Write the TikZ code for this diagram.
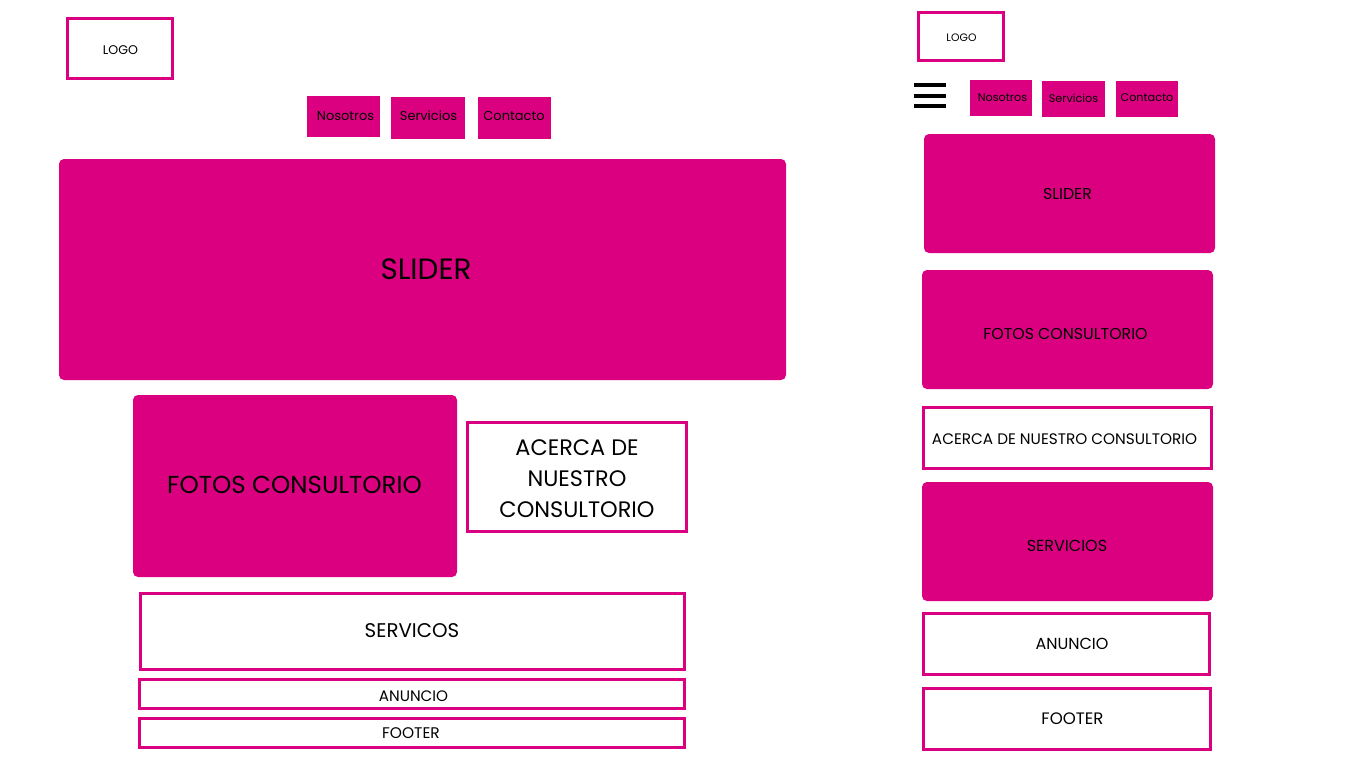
\documentclass[tikz,border=0pt]{standalone}
\usepackage{fontspec}
\setmainfont{Poppins}
\definecolor{brand}{RGB}{219,0,128}
% font size in pt (1 canvas px = 0.5pt)
\newcommand{\pxsize}[2]{\fontsize{#1}{#2}\selectfont}
\tikzset{
  solidbox/.style={fill=brand, draw=none, inner sep=0pt},
  roundbox/.style={solidbox, rounded corners=2.5pt},
  framebox/.style={draw=brand, line width=1.5pt, fill=white, inner sep=0pt},
  label text/.style={inner sep=0pt, align=center, text=black, yshift=-0.5pt},
  burger/.style={line width=2pt, black},
}
\begin{document}
\begin{tikzpicture}[x=0.5pt, y=-0.5pt]
\useasboundingbox[fill=white] (0,0) rectangle (1366,768);

% ---------- desktop layout: boxes ----------
\node[framebox, minimum width=52.5pt, minimum height=30pt] (dlogo) at (120,48.5) {};
\node[solidbox, minimum width=36.5pt, minimum height=20.5pt] (dnos) at (343.5,116.5) {};
\node[solidbox, minimum width=37pt, minimum height=21pt] (dser) at (428,118) {};
\node[solidbox, minimum width=36.5pt, minimum height=21pt] (dcon) at (514.5,118) {};
\node[roundbox, minimum width=363.5pt, minimum height=110.5pt] (dslider) at (422.5,269.5) {};
\node[roundbox, minimum width=162pt, minimum height=91pt] (dfotos) at (295,486) {};
\node[framebox, minimum width=109.5pt, minimum height=54.5pt] (dacerca) at (577,477) {};
\node[framebox, minimum width=272pt, minimum height=38pt] (dservicos) at (412.5,631.5) {};
\node[framebox, minimum width=272.5pt, minimum height=14.5pt] (danuncio) at (412,694) {};
\node[framebox, minimum width=272.5pt, minimum height=14.5pt] (dfooter) at (412,733) {};

% ---------- desktop layout: labels ----------
\node[label text, font=\pxsize{6.3}{7}] (dlogo-t) at (120.5,49) {LOGO};
\node[label text, font=\pxsize{6.5}{8}] (dnos-t) at (345.5,115) {Nosotros};
\node[label text, font=\pxsize{6.5}{8}] (dser-t) at (428.5,115) {Servicios};
\node[label text, font=\pxsize{6.5}{8}] (dcon-t) at (514,115) {Contacto};
\node[label text, font=\pxsize{14.7}{16}] (dslider-t) at (426,268) {SLIDER};
\node[label text, font=\pxsize{12.25}{14}] (dfotos-t) at (294.5,484) {FOTOS CONSULTORIO};
\node[label text, font=\pxsize{11.2}{15.5}] (dacerca-t) at (577,478) {ACERCA DE\\NUESTRO\\CONSULTORIO};
\node[label text, font=\pxsize{9.9}{11}] (dservicos-t) at (412,630) {SERVICOS};
\node[label text, font=\pxsize{7.6}{8}] (danuncio-t) at (413.5,695) {ANUNCIO};
\node[label text, font=\pxsize{7.7}{8}] (dfooter-t) at (411,732) {FOOTER};

% ---------- mobile layout: boxes ----------
\node[framebox, minimum width=42.5pt, minimum height=24pt] (mlogo) at (961,36.5) {};

\coordinate (b1l) at (914,85);  \coordinate (b1r) at (946,85);
\coordinate (b2l) at (914,96);  \coordinate (b2r) at (946,96);
\coordinate (b3l) at (914,106); \coordinate (b3r) at (946,106);
\draw[burger] (b1l) -- (b1r);
\draw[burger] (b2l) -- (b2r);
\draw[burger] (b3l) -- (b3r);

\node[solidbox, minimum width=31pt, minimum height=18pt] (mnos) at (1001,98) {};
\node[solidbox, minimum width=31.5pt, minimum height=18pt] (mser) at (1073.5,99) {};
\node[solidbox, minimum width=31pt, minimum height=18pt] (mcon) at (1147,99) {};
\node[roundbox, minimum width=145.5pt, minimum height=59.5pt] (mslider) at (1069.5,193.5) {};
\node[roundbox, minimum width=145.5pt, minimum height=59.5pt] (mfotos) at (1067.5,329.5) {};
\node[framebox, minimum width=144pt, minimum height=30.5pt] (macerca) at (1067.5,438) {};
\node[roundbox, minimum width=145.5pt, minimum height=59.5pt] (mservicios) at (1067.5,541.5) {};
\node[framebox, minimum width=143pt, minimum height=30.5pt] (manuncio) at (1066.5,644) {};
\node[framebox, minimum width=143.5pt, minimum height=30.5pt] (mfooter) at (1067,719) {};

% ---------- mobile layout: labels ----------
\node[label text, font=\pxsize{5.4}{6}] (mlogo-t) at (961.5,37) {LOGO};
\node[label text, font=\pxsize{5.6}{7}] (mnos-t) at (1002.5,97) {Nosotros};
\node[label text, font=\pxsize{5.6}{7}] (mser-t) at (1073.5,97) {Servicios};
\node[label text, font=\pxsize{5.6}{7}] (mcon-t) at (1147,97) {Contacto};
\node[label text, font=\pxsize{7.9}{9}] (mslider-t) at (1067.5,193) {SLIDER};
\node[label text, font=\pxsize{7.9}{9}] (mfotos-t) at (1065.5,333) {FOTOS CONSULTORIO};
\node[label text, font=\pxsize{7.63}{9}] (macerca-t) at (1064.5,438) {ACERCA DE NUESTRO CONSULTORIO};
\node[label text, font=\pxsize{8.0}{9}] (mservicios-t) at (1067,545) {SERVICIOS};
\node[label text, font=\pxsize{8.0}{9}] (manuncio-t) at (1072,643) {ANUNCIO};
\node[label text, font=\pxsize{8.3}{9}] (mfooter-t) at (1072.5,718) {FOOTER};
\end{tikzpicture}
\end{document}
